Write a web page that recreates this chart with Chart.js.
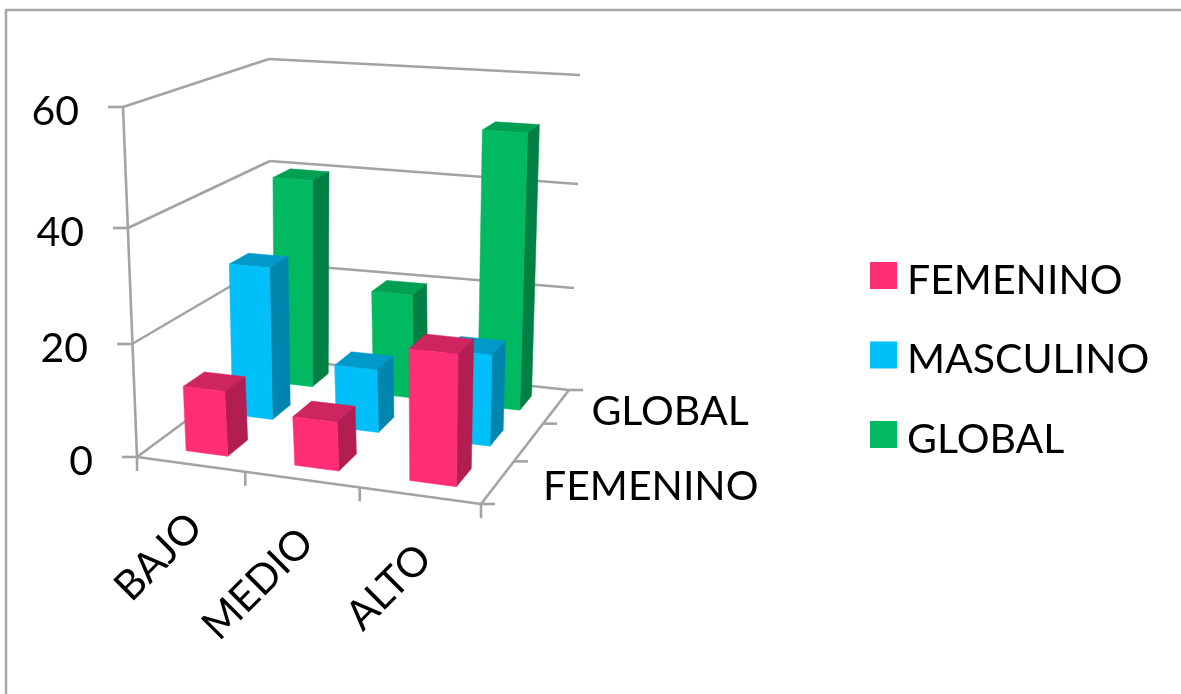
<!DOCTYPE html>
<html>
<head>
<meta charset="utf-8">
<title>Nivel por sexo</title>
<script src="https://cdn.jsdelivr.net/npm/chart.js@4/dist/chart.umd.min.js"></script>
<style>
	body { margin: 0; background: #fff; }
	canvas { display: block; }
</style>
</head>
<body>
<canvas id="niveles" width="1181" height="694"></canvas>
<script>
const categorias = ['BAJO', 'MEDIO', 'ALTO'];
const etiquetasFondo = ['FEMENINO', null, 'GLOBAL'];
const femenino = [11.5, 8.5, 22.7];
const masculino = [28.2, 11.5, 16.5];
const global = [40, 20, 51.5];
const tickValores = [0, 20, 40, 60];

// front, side and top face of each series
const caras = {
	FEMENINO: ['#FF2D76', '#B21E52', '#CE245F'],
	MASCULINO: ['#00BFF9', '#0085AE', '#0099C9'],
	GLOBAL: ['#00B960', '#008043', '#009F52']
};

// box outline at 0, 20, 40, 60: front-left, front-right, back-right, back-left
const niveles = [
	[[137, 457], [481, 504], [569, 390], [271, 358]],
	[[132, 344], [484, 386], [574, 288], [270, 263]],
	[[128, 228], [487, 262], [578, 184], [270, 161]],
	[[123, 107], [490, 136], [580, 75], [269, 59]]
];
const GRIS = '#A3A3A3';
const FUENTE = '41px Lato';
const HUECO_X = 0.305;
const HUECO_Z = 0.285;
const CORRE_X = 0.0075;

// perspective map of the unit square onto one outline
function proyector(q) {
	const [[x0, y0], [x1, y1], [x2, y2], [x3, y3]] = q;
	const dx1 = x1 - x2, dx2 = x3 - x2, sx = x0 - x1 + x2 - x3;
	const dy1 = y1 - y2, dy2 = y3 - y2, sy = y0 - y1 + y2 - y3;
	const den = dx1 * dy2 - dx2 * dy1;
	const g = (sx * dy2 - dx2 * sy) / den;
	const h = (dx1 * sy - sx * dy1) / den;
	const a = x1 - x0 + g * x1, b = x3 - x0 + h * x3;
	const d = y1 - y0 + g * y1, e = y3 - y0 + h * y3;
	return (u, w) => {
		const k = g * u + h * w + 1;
		return [(a * u + b * w + x0) / k, (d * u + e * w + y0) / k];
	};
}
const proyectores = niveles.map(proyector);

// u along categories, w towards the back, t in grid steps
function punto(u, w, t) {
	const i = Math.min(Math.floor(t), proyectores.length - 2);
	const p = proyectores[i](u, w);
	const q = proyectores[i + 1](u, w);
	const f = t - i;
	return [p[0] + (q[0] - p[0]) * f, p[1] + (q[1] - p[1]) * f];
}

function linea(ctx, a, b) {
	ctx.beginPath();
	ctx.moveTo(a[0], a[1]);
	ctx.lineTo(b[0], b[1]);
	ctx.stroke();
}

function cara(ctx, color, pts) {
	ctx.fillStyle = color;
	ctx.strokeStyle = color;
	ctx.lineWidth = 0.5;
	ctx.beginPath();
	pts.forEach((p, i) => i ? ctx.lineTo(p[0], p[1]) : ctx.moveTo(p[0], p[1]));
	ctx.closePath();
	ctx.fill();
	ctx.stroke();
}

class Barra3D extends Chart.BarController {
	draw() {
		const ctx = this.chart.ctx;
		const area = this.chart.chartArea;
		const fila = this.index;
		const colores = caras[this.getDataset().label];
		const w0 = (fila + HUECO_Z) / etiquetasFondo.length;
		const w1 = (fila + 1 - HUECO_Z) / etiquetasFondo.length;
		const pasos = tickValores.length - 1;
		ctx.save();
		this.getMeta().data.forEach(bar => {
			const u0 = (bar.x - bar.width / 2 - area.left) / area.width + CORRE_X;
			const u1 = (bar.x + bar.width / 2 - area.left) / area.width + CORRE_X;
			const t = pasos * (area.bottom - bar.y) / area.height;
			cara(ctx, colores[2], [punto(u0, w0, t), punto(u1, w0, t), punto(u1, w1, t), punto(u0, w1, t)]);
			cara(ctx, colores[1], [punto(u1, w0, 0), punto(u1, w1, 0), punto(u1, w1, t), punto(u1, w0, t)]);
			cara(ctx, colores[0], [punto(u0, w0, 0), punto(u1, w0, 0), punto(u1, w0, t), punto(u0, w0, t)]);
		});
		ctx.restore();
	}
}
Barra3D.id = 'barra3d';
Barra3D.defaults = Chart.BarController.defaults;
Barra3D.overrides = Chart.BarController.overrides;
Chart.register(Barra3D);

const caja3d = {
	id: 'caja3d',
	beforeDatasetsDraw(chart) {
		const ctx = chart.ctx;
		const y = chart.scales.y;
		const x = chart.scales.x;
		ctx.save();

		// outer frame, open on the right and at the bottom
		ctx.strokeStyle = '#A6A6A6';
		ctx.lineWidth = 2.5;
		ctx.beginPath();
		ctx.moveTo(6, chart.height);
		ctx.lineTo(6, 10);
		ctx.lineTo(chart.width, 10);
		ctx.stroke();

		ctx.strokeStyle = GRIS;
		ctx.lineWidth = 2.6;
		ctx.fillStyle = '#000';

		// walls and value ticks
		ctx.font = FUENTE;
		ctx.textAlign = 'right';
		ctx.textBaseline = 'middle';
		y.ticks.forEach((tick, i) => {
			const fl = punto(0, 0, i), bl = punto(0, 1, i), br = punto(1, 1, i);
			linea(ctx, fl, bl);
			linea(ctx, bl, br);
			linea(ctx, fl, [fl[0] - 15, fl[1]]);
			ctx.fillText(tick.label, fl[0] - 44, fl[1] + 5);
		});
		linea(ctx, punto(0, 0, 0), punto(0, 0, y.ticks.length - 1));

		// floor edges and category ticks
		linea(ctx, punto(0, 0, 0), punto(1, 0, 0));
		linea(ctx, punto(1, 0, 0), punto(1, 1, 0));
		x.getLabels().forEach((nombre, i, todos) => {
			const c = punto((i + 0.5) / todos.length, 0, 0);
			ctx.save();
			ctx.translate(c[0] + 5, c[1] + 56);
			ctx.rotate(-Math.PI / 4);
			ctx.textAlign = 'right';
			ctx.fillText(nombre, 0, 0);
			ctx.restore();
		});
		for (let i = 0; i <= categorias.length; i++) {
			const p = punto(i / categorias.length, 0, 0);
			linea(ctx, p, [p[0], p[1] + 14]);
		}

		// depth ticks and series names on the right edge
		for (let i = 0; i <= etiquetasFondo.length; i++) {
			const p = punto(1, i / etiquetasFondo.length, 0);
			linea(ctx, p, [p[0] + 14, p[1]]);
		}
		ctx.textAlign = 'left';
		etiquetasFondo.forEach((nombre, i) => {
			if (!nombre) return;
			const p = punto(1, (i + 0.5) / etiquetasFondo.length, 0);
			ctx.fillText(nombre, p[0] + 45 - 5 * i, p[1] + 5);
		});

		// legend column
		chart.data.datasets.forEach((ds, i) => {
			const fy = 275.5 + i * 79.5;
			ctx.fillStyle = ds.backgroundColor;
			ctx.fillRect(870, fy - 13.5, 27, 27);
			ctx.fillStyle = '#000';
			ctx.fillText(ds.label, 907, fy + 5);
		});
		ctx.restore();
	}
};

new Chart(document.getElementById('niveles'), {
	type: 'barra3d',
	plugins: [caja3d],
	data: {
		labels: categorias,
		datasets: [
			{ label: 'FEMENINO', data: femenino, backgroundColor: caras.FEMENINO[0] },
			{ label: 'MASCULINO', data: masculino, backgroundColor: caras.MASCULINO[0] },
			{ label: 'GLOBAL', data: global, backgroundColor: caras.GLOBAL[0] }
		]
	},
	options: {
		responsive: false,
		animation: false,
		grouped: false,
		barPercentage: 1 - 2 * HUECO_X,
		categoryPercentage: 1,
		scales: {
			x: { type: 'category', display: false, offset: true },
			y: { type: 'linear', display: false, min: 0, max: 60, ticks: { stepSize: 20 } }
		},
		plugins: {
			tooltip: { enabled: false },
			legend: { display: false }
		}
	}
});
</script>
</body>
</html>
